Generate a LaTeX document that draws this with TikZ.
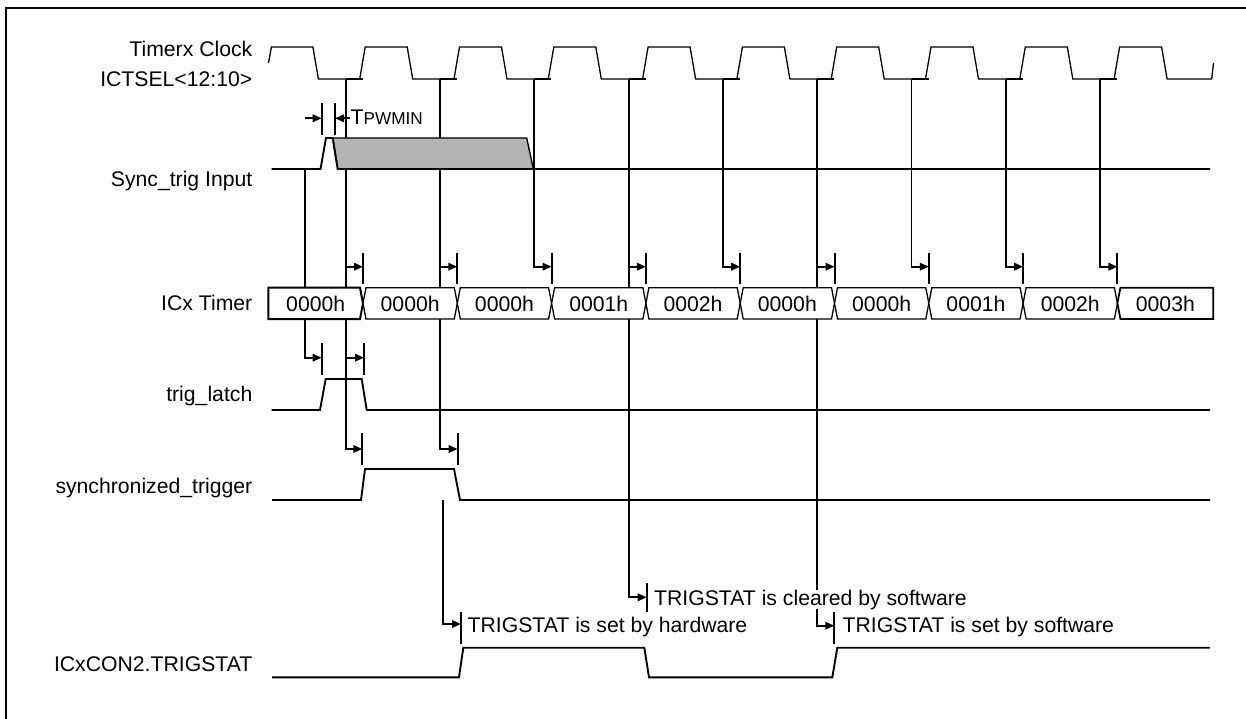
\documentclass[tikz,border=0pt]{standalone}
\usepackage{fontspec}
\setmainfont{Liberation Sans}
\usetikzlibrary{arrows.meta}
\definecolor{shade}{RGB}{180,180,180}
\begin{document}
\begin{tikzpicture}[x=1pt,y=-1pt,
  wave/.style={line width=1.9pt, line join=miter},
  clk/.style={line width=1.3pt, line join=miter},
  tickmark/.style={line width=2pt},
  arr/.style={line width=1.9pt,-{Triangle[length=9pt,width=7.5pt]}},
  busseg/.style={line width=1.3pt, fill=white, line join=miter},
  lbl/.style={anchor=base east, inner sep=0pt, font=\fontsize{21.2}{24}\selectfont},
  txt/.style={anchor=base west, inner sep=0pt, font=\fontsize{21.2}{24}\selectfont},
  bustxt/.style={anchor=base, inner sep=0pt, font=\fontsize{21.2}{24}\selectfont},
]
\useasboundingbox (0,0) rectangle (1246,719);
\begin{scope}
  \clip (0,0) rectangle (1246,719);
  \draw[line width=2.6pt] (6,8) rectangle (1300,800);
\end{scope}

% ---- coordinates ----
\foreach \k in {0,...,8} {
  \pgfmathsetmacro{\L}{345.7+94.3*\k}
  \pgfmathsetmacro{\X}{\L+17.3}
  \coordinate (c\k) at (\L,79);
  \coordinate (b\k) at (\X,266.7);
}
\coordinate (s0) at (305,169);
\coordinate (tl1) at (321.7,357.7);
\coordinate (tl2) at (364,357.7);
\coordinate (st1) at (362.3,449);
\coordinate (st2) at (457.7,449);
\coordinate (h0) at (443.3,500);
\coordinate (r0) at (461,624);
\coordinate (r1) at (646.7,597.3);
\coordinate (r2) at (834.3,625.7);
\coordinate (p1) at (321.7,118.3);
\coordinate (p2) at (335,118.3);

% ---- vertical connectors ----
\draw[arr] (c0) |- (st1);
\draw[arr] (c0 |- b0) -- (b0);
\draw[arr] (c0 |- tl2) -- (tl2);
\draw[arr] (c1) |- (st2);
\draw[arr] (c1 |- b1) -- (b1);
\draw[arr] (c2) |- (b2);
\draw[arr] (c3) |- (r1);
\draw[arr] (c3 |- b3) -- (b3);
\draw[arr] (c4) |- (b4);
\draw[arr] (c5) |- (r2);
\draw[arr] (c5 |- b5) -- (b5);
\draw[arr] (c6) |- (b6);
\draw[arr] (c7) |- (b7);
\draw[arr] (c8) |- (b8);
\draw[arr] (s0) |- (tl1);
\draw[arr] (h0) |- (r0);

% ---- ticks ----
\foreach \k in {0,...,8} {
  \draw[tickmark] (b\k) ++(0,-14) -- ++(0,31.6);
}
\foreach \c in {tl1,tl2} { \draw[tickmark] (\c) ++(0,-14.4) -- ++(0,31.7); }
\foreach \c in {st1,st2} { \draw[tickmark] (\c) ++(0,-15.7) -- ++(0,31.7); }
\draw[tickmark] (r0) ++(0,-11.7) -- ++(0,31.7);
\draw[tickmark] (r1) ++(0,-14.6) -- ++(0,29);
\draw[tickmark] (r2) ++(0,-13.7) -- ++(0,31.7);
\foreach \c in {p1,p2} { \draw[tickmark] (\c) ++(0,-15.6) -- ++(0,32.3); }

% ---- TPWMIN ----
\draw[arr] (305,118.3) -- (p1);
\draw[arr] (350,118.3) -- (p2);
\node[txt] (tpw) at (350.5,125) {T\fontsize{17.2}{20}\selectfont PWMIN};

% ---- clock ----
\draw[clk] (268.5,63) -- (271.4,47) -- (312.9,47) -- (318.4,79)
  \foreach \k in {0,...,8} {
    -- ({345.7+94.3*\k+14},79) -- ({345.7+94.3*\k+19.5},47)
    -- ({345.7+94.3*\k+61.5},47) -- ({345.7+94.3*\k+67},79)
  } -- (1211.7,79) -- (1213.5,63);
\foreach \k in {0,...,8} {
  \draw[line width=2.4pt] (c\k) -- ++(17,0);
}

% ---- Sync_trig input ----
\draw[line width=1.4pt, fill=shade, line join=miter] (332.7,138) -- (526.7,138) -- (533.3,169) -- (337.7,169) -- cycle;
\draw[wave] (271.7,169) -- (320.5,169) -- (326,138) -- (332.7,138) -- (337.7,169) -- (1210,169);
\draw[line width=2.5pt] (305,169) -- (321,169);

% ---- ICx Timer bus ----
\def\bt{287.7}\def\bb{319}\def\bm{303.3}
\draw[busseg, line width=2pt] (268.3,\bt) -- ({363-3},\bt) -- (363,\bm) -- ({363-3},\bb) -- (268.3,\bb) -- cycle;
\foreach \k in {1,...,8} {
  \pgfmathsetmacro{\Xa}{363+94.3*(\k-1)}
  \pgfmathsetmacro{\Xb}{363+94.3*\k}
  \draw[busseg] ({\Xa+3},\bt) -- ({\Xb-3},\bt) -- (\Xb,\bm) -- ({\Xb-3},\bb) -- ({\Xa+3},\bb) -- (\Xa,\bm) -- cycle;
}
\pgfmathsetmacro{\Xl}{363+94.3*8}
\draw[busseg, line width=1.8pt] ({\Xl+3},\bt) -- (1213.3,\bt) -- (1213.3,\bb) -- ({\Xl+3},\bb) -- (\Xl,\bm) -- cycle;
\node[bustxt] (t0) at (315.7,311) {0000h};
\foreach \v [count=\i] in {0000h,0000h,0001h,0002h,0000h,0000h,0001h,0002h} {
  \pgfmathsetmacro{\xc}{363+94.3*(\i-1)+47.15}
  \node[bustxt] (t\i) at (\xc,311) {\v};
}
\node[bustxt] (t9) at ({(\Xl+1213.3)/2},311) {0003h};

% ---- trig_latch ----
\draw[wave] (271.7,410) -- (320,410) -- (325.7,379) -- (361.7,379) -- (366.7,410) -- (1210,410);

% ---- synchronized_trigger ----
\draw[wave] (272,500) -- (361,500) -- (365,469) -- (454,469) -- (460,500) -- (1210,500);

% ---- ICxCON2.TRIGSTAT ----
\draw[wave] (272,677.3) -- (459,677.3) -- (463.3,647.7) -- (644.3,647.7) -- (649,677.3)
  -- (832.3,677.3) -- (837.3,647.7) -- (1210,647.7);

% ---- annotations ----
\node[txt, fill=white] (n1) at (654,605) {TRIGSTAT is cleared by software};
\node[txt] (n2) at (467.5,632.7) {TRIGSTAT is set by hardware};
\node[txt] (n3) at (842.5,632.7) {TRIGSTAT is set by software};

% ---- left labels ----
\node[lbl] (l1) at (252.5,56.7) {Timerx Clock};
\node[lbl] (l2) at (252.5,86.5) {ICTSEL<12:10>};
\node[lbl] (l3) at (252.5,186.5) {Sync\_trig Input};
\node[lbl] (l4) at (252.5,310.5) {ICx Timer};
\node[lbl] (l5) at (252.5,401.7) {trig\_latch};
\node[lbl] (l6) at (252.5,493) {synchronized\_trigger};
\node[lbl] (l7) at (252.5,671.7) {ICxCON2.TRIGSTAT};
\end{tikzpicture}
\end{document}
